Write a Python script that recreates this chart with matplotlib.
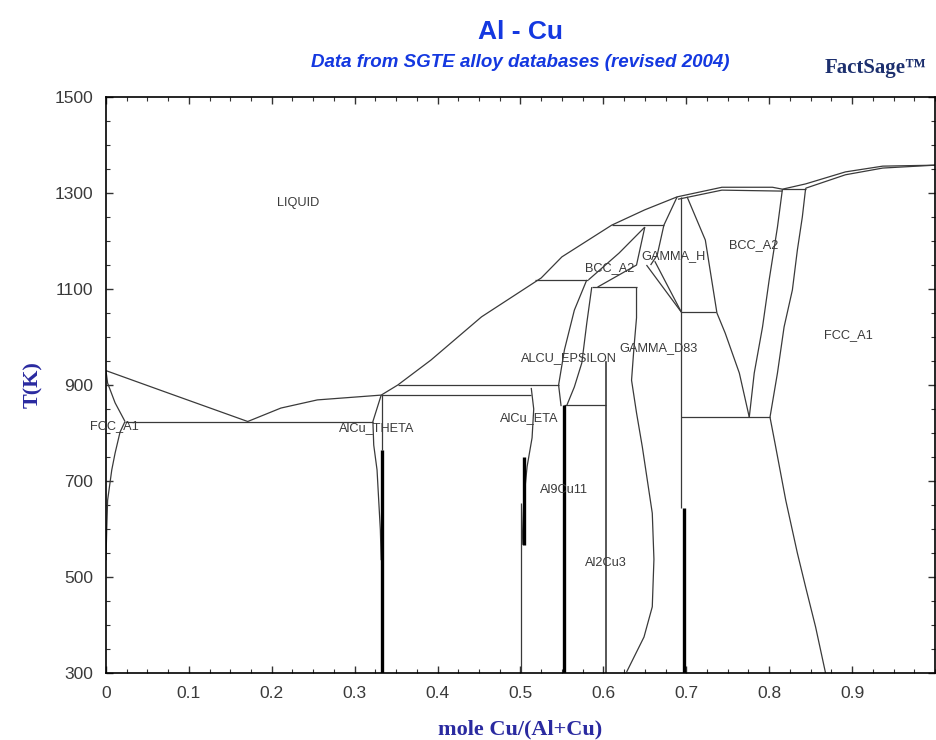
import numpy as np
import matplotlib
matplotlib.use("Agg")
import matplotlib.pyplot as plt
from matplotlib.ticker import MultipleLocator

# phase boundaries, x = mole Cu/(Al+Cu), T in K
liquidus = [(0.0, 930), (0.074, 884), (0.171, 824), (0.211, 852), (0.255, 869), (0.332, 879),
            (0.352, 900), (0.392, 952), (0.453, 1042), (0.525, 1123), (0.550, 1167),
            (0.610, 1233), (0.650, 1265), (0.689, 1292), (0.743, 1312), (0.804, 1312),
            (0.816, 1308), (0.844, 1319), (0.892, 1344), (0.937, 1356), (1.0, 1358)]
bcc_solidus = [(0.690, 1287), (0.743, 1306), (0.816, 1304)]
fcc_cu_solidus = [(0.844, 1310), (0.892, 1338), (0.937, 1352), (1.0, 1358)]
fcc_al_solidus = [(0.0, 930), (0.002, 904), (0.011, 863), (0.023, 824)]
fcc_al_solvus = [(0.023, 824), (0.017, 802), (0.011, 758), (0.007, 723), (0.002, 660),
                 (0.001, 604), (0.0, 535)]
theta_left = [(0.332, 879), (0.322, 824), (0.323, 775), (0.327, 723), (0.329, 660),
              (0.331, 598), (0.332, 535)]
eta_line = [(0.513, 894), (0.516, 850), (0.514, 790), (0.508, 730), (0.504, 660), (0.502, 567)]
epsilon_left = [(0.580, 1119), (0.565, 1056), (0.553, 973), (0.546, 900), (0.549, 856)]
epsilon_right = [(0.586, 1104), (0.580, 1029), (0.574, 946), (0.565, 896), (0.556, 858)]
bcc_pocket_left = [(0.650, 1229), (0.619, 1175), (0.582, 1119)]
bcc_pocket_low = [(0.593, 1104), (0.640, 1150), (0.650, 1229)]
gamma_h_left = [(0.689, 1292), (0.673, 1233), (0.665, 1171), (0.657, 1150)]
gamma_h_low1 = [(0.652, 1150), (0.694, 1052)]
gamma_h_low2 = [(0.662, 1158), (0.694, 1052)]
gamma_d83_left = [(0.640, 1104), (0.640, 1040), (0.637, 980), (0.634, 910), (0.640, 842),
                  (0.647, 771), (0.653, 702), (0.659, 633), (0.661, 537), (0.659, 438),
                  (0.649, 375), (0.628, 302)]
bcc_left = [(0.701, 1292), (0.723, 1202), (0.737, 1050), (0.747, 1008), (0.764, 925),
            (0.776, 833)]
bcc_right = [(0.816, 1308), (0.810, 1229), (0.800, 1119), (0.792, 1021), (0.782, 925),
             (0.776, 833)]
fcc_cu_left = [(0.844, 1310), (0.840, 1250), (0.834, 1181), (0.828, 1098), (0.818, 1021),
               (0.810, 925), (0.801, 833), (0.807, 779), (0.820, 660), (0.834, 550),
               (0.844, 479), (0.856, 396), (0.868, 300)]

# invariant horizontals: (T, x_start, x_end)
horizontals = [(824, 0.023, 0.322), (879, 0.332, 0.513), (900, 0.352, 0.546),
               (858, 0.553, 0.603), (1119, 0.518, 0.582), (1104, 0.586, 0.640),
               (1233, 0.610, 0.673), (1052, 0.694, 0.736), (833, 0.694, 0.801),
               (1308, 0.816, 0.844)]

# thin verticals: (x, T_top, T_bottom)
thin_verticals = [(0.333, 879, 765), (0.501, 654, 300), (0.694, 1292, 644)]
# stoichiometric compounds, drawn heavy
thick_verticals = [(0.333, 765, 300), (0.553, 858, 300), (0.697, 644, 300), (0.5045, 750, 567)]
delta_line = (0.603, 948, 300)

labels = [("LIQUID", 0.232, 1279), ("FCC_A1", 0.010, 815), ("AlCu_THETA", 0.327, 810),
          ("AlCu_ETA", 0.511, 831), ("ALCU_EPSILON", 0.558, 956), ("Al9Cu11", 0.552, 681),
          ("Al2Cu3", 0.603, 529), ("GAMMA_D83", 0.667, 977), ("GAMMA_H", 0.685, 1169),
          ("BCC_A2", 0.608, 1144), ("BCC_A2", 0.781, 1192), ("FCC_A1", 0.896, 1004)]

x_ticks = [0, 0.1, 0.2, 0.3, 0.4, 0.5, 0.6, 0.7, 0.8, 0.9]
x_tick_labels = ["0", "0.1", "0.2", "0.3", "0.4", "0.5", "0.6", "0.7", "0.8", "0.9"]
y_ticks = [300, 500, 700, 900, 1100, 1300, 1500]

thin = dict(color="#3a3a3a", lw=0.9, solid_capstyle="butt")
thick = dict(color="black", lw=2.4, solid_capstyle="butt")

fig = plt.figure(figsize=(9.36, 7.40), dpi=100)
ax = fig.add_axes([0.1132, 0.0905, 0.8857, 0.7784])

for curve in [liquidus, bcc_solidus, fcc_cu_solidus, fcc_al_solidus, fcc_al_solvus,
              theta_left, eta_line, epsilon_left, epsilon_right, bcc_pocket_left,
              bcc_pocket_low, gamma_h_left, gamma_h_low1, gamma_h_low2, gamma_d83_left,
              bcc_left, bcc_right, fcc_cu_left]:
    xs, ts = zip(*curve)
    ax.plot(xs, ts, **thin)

for t, x0, x1 in horizontals:
    ax.plot([x0, x1], [t, t], **thin)
for x, t0, t1 in thin_verticals:
    ax.plot([x, x], [t0, t1], **thin)
for x, t0, t1 in thick_verticals:
    ax.plot([x, x], [t0, t1], **thick)
ax.plot([delta_line[0]] * 2, delta_line[1:], color="#3a3a3a", lw=1.2)

for text, x, t in labels:
    ax.text(x, t, text, fontsize=9.2, color="#3a3a3a", ha="center", va="center",
            family="Liberation Sans")

ax.set_xlim(0, 1)
ax.set_ylim(300, 1500)
ax.set_xticks(x_ticks)
ax.set_xticklabels(x_tick_labels)
ax.set_yticks(y_ticks)
ax.xaxis.set_minor_locator(MultipleLocator(0.025))
ax.yaxis.set_minor_locator(MultipleLocator(50))
ax.tick_params(which="both", direction="in", top=True, right=True, color="#333333")
ax.tick_params(which="major", length=5, width=1, labelsize=12.5, labelcolor="#3a3a3a")
ax.tick_params(axis="y", which="major", pad=9)
ax.tick_params(axis="x", which="major", pad=9)
ax.tick_params(which="minor", length=3, width=0.8)
for lab in ax.get_xticklabels() + ax.get_yticklabels():
    lab.set_family("Liberation Sans")
for s in ax.spines.values():
    s.set_linewidth(1.2)

ax.set_xlabel("mole Cu/(Al+Cu)", fontsize=16, fontweight="bold", color="#2a2aa0",
              family="Liberation Serif", labelpad=14)
ax.set_ylabel("T(K)", fontsize=16, fontweight="bold", color="#2a2aa0",
              family="Liberation Serif", labelpad=8)

fig.text(0.556, 0.957, "Al - Cu", fontsize=19, fontweight="bold", color="#1438e0",
         ha="center", va="center", family="Liberation Sans")
fig.text(0.556, 0.915, "Data from SGTE alloy databases (revised 2004)", fontsize=13.5,
         fontweight="bold", style="italic", color="#1438e0", ha="center", va="center",
         family="Liberation Sans")
fig.text(0.935, 0.908, "FactSage\u2122", fontsize=15, fontweight="bold", color="#1c2f6e",
         ha="center", va="center", family="Liberation Serif")

fig.savefig("out.png", dpi=100)
